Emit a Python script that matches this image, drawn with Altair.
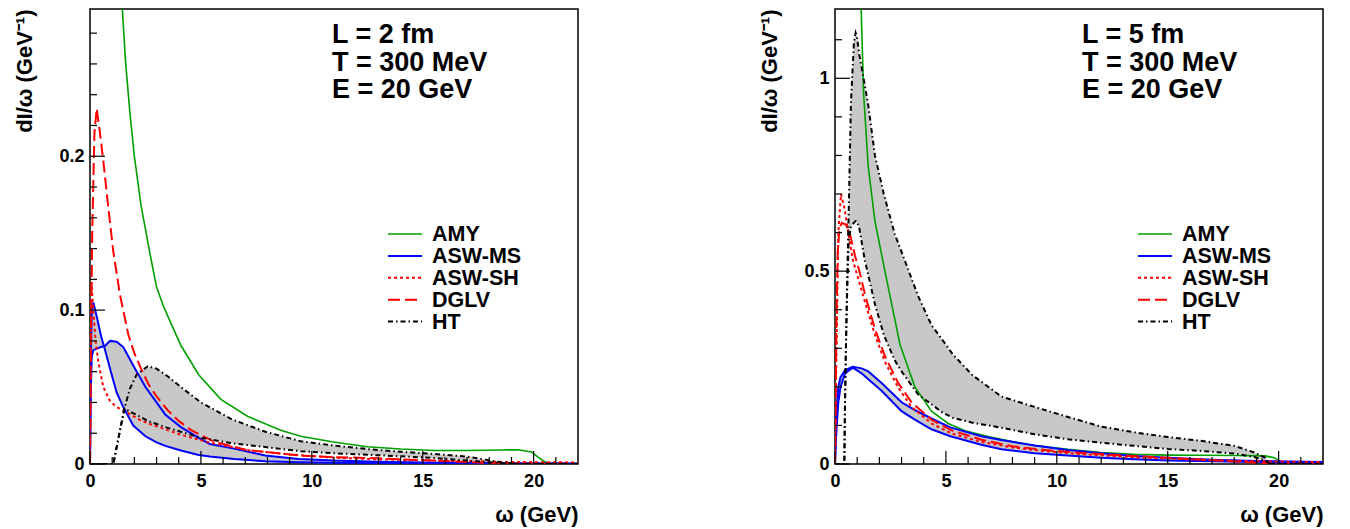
import altair as alt
import pandas as pd

FONT = "Liberation Sans"
GREEN = "#00a000"
BLUE = "#0000ff"
RED = "#ff0000"
BLACK = "#000000"
GRAY = "#c8c8c8"

# ---------------- Left panel: L = 2 fm ----------------
amy2_w = [1.38, 1.44, 1.6, 1.8, 2.0, 2.3, 2.7, 3.0, 3.3, 3.6, 4.1, 4.9, 5.9, 7.1, 8.6, 9.5, 10.9, 12.5, 14.0, 15.5, 17.0, 18.5, 19.3, 19.9, 20.2, 20.5, 20.8, 22.0]
amy2_v = [0.33, 0.30, 0.262, 0.228, 0.20, 0.168, 0.137, 0.115, 0.103, 0.093, 0.077, 0.058, 0.042, 0.031, 0.022, 0.018, 0.0145, 0.0112, 0.0097, 0.0088, 0.0088, 0.0091, 0.0093, 0.0078, 0.0045, 0.0015, 0.0002, 0.0]

dglv2_w = [0, 0.05, 0.1, 0.2, 0.3, 0.45, 0.6, 0.8, 1.05, 1.35, 1.73, 2.0, 2.3, 2.63, 3.0, 3.5, 4.0, 4.6, 5.6, 7.1, 9.5, 11.0, 12.5, 15.5, 17.5, 19.0, 22.0]
dglv2_v = [0, 0.09, 0.15, 0.215, 0.231, 0.215, 0.197, 0.17, 0.138, 0.11, 0.084, 0.072, 0.062, 0.052, 0.044, 0.035, 0.028, 0.0216, 0.0145, 0.009, 0.0054, 0.0045, 0.0039, 0.0022, 0.001, 0.0003, 0.0]

aswsh2_w = [0, 0.03, 0.07, 0.15, 0.25, 0.38, 0.6, 0.9, 1.2, 1.6, 2.2, 2.7, 3.3, 4.1, 5.3, 7.1, 9.0, 11.0, 13.0, 15.0, 17.0, 19.0, 22.0]
aswsh2_v = [0, 0.09, 0.118, 0.10, 0.08, 0.066, 0.05, 0.041, 0.037, 0.034, 0.029, 0.026, 0.023, 0.019, 0.0143, 0.009, 0.0062, 0.0042, 0.003, 0.0024, 0.0018, 0.0013, 0.001]

aswms2_w = [0, 0.03, 0.08, 0.15, 0.3, 0.5, 0.7, 0.9, 1.2, 1.5, 1.95, 2.5, 3.0, 3.4, 4.1, 4.9, 5.4, 6.5, 7.9, 9.4, 11.0, 13.0, 15.0, 18.0, 22.0]
aswms2_a = [0, 0.06, 0.1, 0.105, 0.096, 0.083, 0.073, 0.062, 0.0465, 0.037, 0.025, 0.018, 0.014, 0.0118, 0.0088, 0.0058, 0.0048, 0.0032, 0.0018, 0.0012, 0.0008, 0.0006, 0.0004, 0.0003, 0.0002]
aswms2_b = [0, 0.045, 0.07, 0.074, 0.075, 0.076, 0.077, 0.080, 0.0795, 0.076, 0.064, 0.050, 0.040, 0.032, 0.024, 0.017, 0.013, 0.010, 0.0055, 0.0033, 0.0022, 0.0015, 0.001, 0.0006, 0.0004]

ht2_w = [0, 1.05, 1.3, 1.55, 1.8, 2.1, 2.6, 3.0, 3.5, 4.1, 5.0, 6.4, 7.9, 9.5, 11.0, 12.5, 14.0, 15.5, 17.0, 17.9, 18.6, 19.2, 22.0]
ht2_hi = [0, 0, 0.018, 0.036, 0.049, 0.058, 0.0635, 0.062, 0.057, 0.050, 0.040, 0.029, 0.021, 0.0148, 0.012, 0.0097, 0.008, 0.0065, 0.0048, 0.0026, 0.0009, 0, 0]
ht2_lo = [0, 0, 0.018, 0.036, 0.034, 0.032, 0.028, 0.026, 0.0235, 0.021, 0.017, 0.0135, 0.011, 0.0083, 0.007, 0.006, 0.005, 0.0039, 0.0022, 0.0012, 0.0005, 0, 0]

# ---------------- Right panel: L = 5 fm ----------------
amy5_w = [1.1, 1.17, 1.29, 1.5, 1.8, 2.25, 2.93, 3.6, 4.35, 5.1, 5.86, 7.0, 8.0, 9.0, 10.5, 12.0, 13.5, 15.0, 16.5, 18.0, 19.4, 19.8, 20.0, 20.2, 20.5, 22.0]
amy5_v = [1.35, 1.2, 0.96, 0.77, 0.63, 0.5, 0.31, 0.2, 0.137, 0.105, 0.086, 0.07, 0.058, 0.048, 0.038, 0.03, 0.025, 0.023, 0.0225, 0.022, 0.021, 0.016, 0.0095, 0.002, 0.0, 0.0]

dglv5_w = [0, 0.02, 0.06, 0.12, 0.2, 0.3, 0.5, 0.7, 0.9, 1.1, 1.35, 1.8, 2.25, 2.85, 3.45, 4.35, 5.26, 6.6, 8.0, 9.5, 11.0, 13.0, 15.0, 17.0, 18.5, 19.5, 20.0, 22.0]
dglv5_v = [0, 0.1, 0.35, 0.55, 0.61, 0.625, 0.62, 0.59, 0.54, 0.5, 0.44, 0.35, 0.28, 0.21, 0.16, 0.115, 0.087, 0.063, 0.046, 0.036, 0.029, 0.022, 0.016, 0.01, 0.005, 0.002, 0.0, 0.0]

aswsh5_w = [0, 0.04, 0.08, 0.15, 0.27, 0.42, 0.6, 0.8, 1.05, 1.35, 1.8, 2.25, 2.85, 3.45, 4.35, 5.26, 6.6, 8.0, 9.5, 11.0, 13.0, 15.0, 17.0, 19.0, 22.0]
aswsh5_v = [0, 0.2, 0.34, 0.6, 0.70, 0.665, 0.6, 0.53, 0.48, 0.42, 0.335, 0.265, 0.198, 0.148, 0.105, 0.079, 0.057, 0.043, 0.033, 0.026, 0.019, 0.014, 0.01, 0.007, 0.005]

aswms5_w = [0, 0.04, 0.08, 0.15, 0.25, 0.45, 0.8, 1.2, 1.5, 2.1, 3.0, 3.6, 4.35, 5.2, 6.6, 7.5, 9.0, 10.5, 12.0, 13.5, 15.0, 17.0, 19.0, 22.0]
aswms5_a = [0, 0.1, 0.15, 0.2, 0.225, 0.243, 0.252, 0.248, 0.24, 0.21, 0.16, 0.14, 0.118, 0.095, 0.072, 0.062, 0.048, 0.036, 0.028, 0.021, 0.016, 0.011, 0.008, 0.005]
aswms5_b = [0, 0.06, 0.1, 0.16, 0.2, 0.235, 0.25, 0.235, 0.22, 0.19, 0.137, 0.115, 0.09, 0.072, 0.05, 0.038, 0.028, 0.022, 0.016, 0.012, 0.009, 0.007, 0.005, 0.004]

ht5_w = [0, 0.42, 0.45, 0.5, 0.55, 0.62, 0.72, 0.85, 0.93, 0.98, 1.1, 1.35, 1.5, 1.8, 2.2, 2.7, 3.0, 3.75, 4.35, 4.8, 5.3, 6.2, 7.5, 9.0, 10.5, 12.0, 13.5, 15.0, 16.5, 18.0, 18.9, 19.4, 19.6, 22.0]
ht5_hi = [0, 0, 0.16, 0.33, 0.48, 0.66, 0.94, 1.09, 1.118, 1.11, 1.06, 0.98, 0.93, 0.80, 0.70, 0.595, 0.55, 0.435, 0.36, 0.325, 0.285, 0.23, 0.175, 0.148, 0.122, 0.097, 0.082, 0.07, 0.06, 0.047, 0.03, 0.016, 0, 0]
ht5_lo = [0, 0, 0.15, 0.32, 0.45, 0.58, 0.615, 0.625, 0.63, 0.63, 0.61, 0.526, 0.49, 0.414, 0.335, 0.268, 0.24, 0.18, 0.155, 0.135, 0.12, 0.107, 0.094, 0.077, 0.064, 0.055, 0.047, 0.039, 0.034, 0.027, 0.018, 0.009, 0, 0]

series_names = ["AMY", "ASW-MS", "ASW-SH", "DGLV", "HT"]
annot2 = ["L = 2 fm", "T = 300 MeV", "E = 20 GeV"]
annot5 = ["L = 5 fm", "T = 300 MeV", "E = 20 GeV"]

x_major = [0, 5, 10, 15, 20]
x_minor = [1, 2, 3, 4, 6, 7, 8, 9, 11, 12, 13, 14, 16, 17, 18, 19, 21]
y2_major = [0, 0.1, 0.2]
y2_minor = [0.02, 0.04, 0.06, 0.08, 0.12, 0.14, 0.16, 0.18, 0.22, 0.24, 0.26, 0.28]
y5_major = [0, 0.5, 1.0]
y5_minor = [0.1, 0.2, 0.3, 0.4, 0.6, 0.7, 0.8, 0.9, 1.1]

STYLES = {
    "AMY": dict(color=GREEN, strokeWidth=1.6),
    "ASW-MS": dict(color=BLUE, strokeWidth=2),
    "ASW-SH": dict(color=RED, strokeWidth=2, strokeDash=[3, 3]),
    "DGLV": dict(color=RED, strokeWidth=2, strokeDash=[12, 5]),
    "HT": dict(color=BLACK, strokeWidth=2, strokeDash=[5, 3, 1.5, 3]),
}

W, H = 488, 455


def panel(ytop, ymaj, ymin, curves, bands, annot, ann_x, leg_x0):
    xs = alt.Scale(domain=[0, 22], nice=False, zero=False)
    ys = alt.Scale(domain=[0, ytop], nice=False, zero=False)
    xaxis = alt.Axis(values=x_major, format="~g", title="ω (GeV)", ticks=False, domain=False, grid=False,
                     labelFont=FONT, labelFontSize=18, labelFontWeight="bold", labelColor=BLACK,
                     labelPadding=8, labelFlush=False, labelOverlap=False,
                     titleFont=FONT, titleFontSize=22, titleFontWeight="bold", titleColor=BLACK,
                     titleAnchor="end", titleAlign="right", titleX=W, titleY=57, titleBaseline="alphabetic")
    yaxis = alt.Axis(values=ymaj, format="~g", title="dI/ω (GeV⁻¹)", ticks=False, domain=False, grid=False,
                     labelFont=FONT, labelFontSize=18, labelFontWeight="bold", labelColor=BLACK,
                     labelPadding=6, labelFlush=False, labelOverlap=False,
                     titleFont=FONT, titleFontSize=22, titleFontWeight="bold", titleColor=BLACK,
                     titleAngle=270, titleAnchor="end", titleAlign="right", titleX=-66, titleY=0,
                     titleBaseline="middle")
    X = lambda f: alt.X(f, scale=xs, axis=xaxis)
    Y = lambda f: alt.Y(f, scale=ys, axis=yaxis)

    layers = []
    for w, lo, hi in bands:
        df = pd.DataFrame({"w": w, "lo": lo, "hi": hi})
        layers.append(alt.Chart(df).mark_area(color=GRAY, opacity=1, clip=True)
                      .encode(x=X("w:Q"), y=Y("hi:Q"), y2=alt.Y2("lo:Q")))
    for name, w, v in curves:
        df = pd.DataFrame({"w": w, "v": v})
        layers.append(alt.Chart(df).mark_line(clip=True, **STYLES[name])
                      .encode(x=X("w:Q"), y=Y("v:Q")))
    # inside tick marks (ROOT style)
    for vals, ln in ((x_major, 13), (x_minor, 7)):
        layers.append(alt.Chart(pd.DataFrame({"t": vals})).mark_rule(color=BLACK, strokeWidth=1.2)
                      .encode(x=X("t:Q"), y=alt.value(H), y2=alt.value(H - ln)))
    for vals, ln in ((ymaj, 15), (ymin, 7)):
        layers.append(alt.Chart(pd.DataFrame({"t": vals})).mark_rule(color=BLACK, strokeWidth=1.2)
                      .encode(y=Y("t:Q"), x=alt.value(0), x2=alt.value(ln)))
    # annotation
    for i, line in enumerate(annot):
        layers.append(alt.Chart(pd.DataFrame({"s": [line]})).mark_text(
            font=FONT, fontSize=27, fontWeight="bold", color=BLACK, align="left", baseline="alphabetic")
            .encode(text="s:N", x=alt.value(ann_x), y=alt.value(34 + 27.5 * i)))
    # legend
    for i, name in enumerate(series_names):
        st = STYLES[name]
        ly = 225 + 21.9 * i
        d = pd.DataFrame({"s": [name]})
        layers.append(alt.Chart(d).mark_rule(**st)
                      .encode(x=alt.value(leg_x0), x2=alt.value(leg_x0 + 34), y=alt.value(ly)))
        layers.append(alt.Chart(d).mark_text(font=FONT, fontSize=21.5, fontWeight="bold", color=BLACK,
                                             align="left", baseline="middle")
                      .encode(text="s:N", x=alt.value(leg_x0 + 44), y=alt.value(ly + 1)))
    return alt.layer(*layers).properties(width=W, height=H)


left = panel(0.2957, y2_major, y2_minor,
             [("AMY", amy2_w, amy2_v), ("ASW-MS", aswms2_w, aswms2_a), ("ASW-MS", aswms2_w, aswms2_b),
              ("ASW-SH", aswsh2_w, aswsh2_v), ("DGLV", dglv2_w, dglv2_v),
              ("HT", ht2_w, ht2_hi), ("HT", ht2_w, ht2_lo)],
             [(aswms2_w, aswms2_b, aswms2_a), (ht2_w, ht2_lo, ht2_hi)],
             annot2, 242, 298)

right = panel(1.1797, y5_major, y5_minor,
              [("AMY", amy5_w, amy5_v), ("ASW-MS", aswms5_w, aswms5_a), ("ASW-MS", aswms5_w, aswms5_b),
               ("ASW-SH", aswsh5_w, aswsh5_v), ("DGLV", dglv5_w, dglv5_v),
               ("HT", ht5_w, ht5_hi), ("HT", ht5_w, ht5_lo)],
              [(aswms5_w, aswms5_b, aswms5_a), (ht5_w, ht5_lo, ht5_hi)],
              annot5, 247, 303)

chart = alt.hconcat(left, right, spacing=257, bounds="flush").properties(
    padding={"left": 4, "top": 0, "right": 5, "bottom": 5}
).configure_view(stroke=BLACK, strokeWidth=1.5)

chart.save("out.html", embed_options={"renderer": "svg", "actions": False})
